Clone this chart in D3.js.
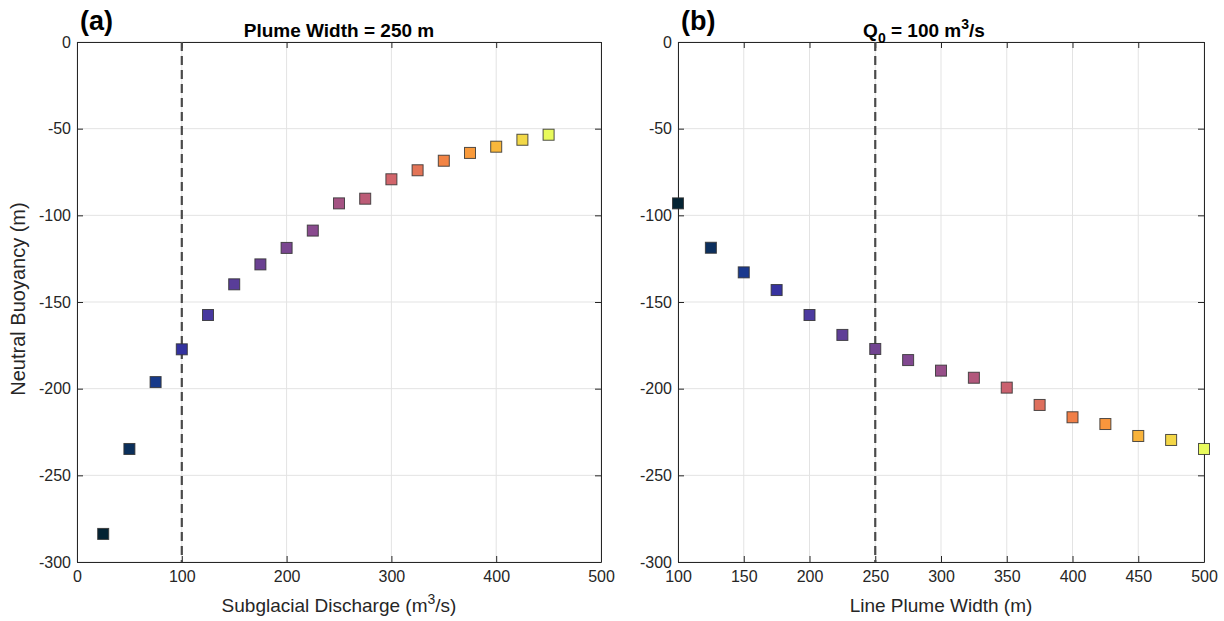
<!DOCTYPE html>
<html>
<head>
<meta charset="utf-8">
<script src="https://cdn.jsdelivr.net/npm/d3@7"></script>
<style>
  html, body { margin: 0; padding: 0; background: #fff; }
  svg { display: block; font-family: "Liberation Sans", Arial, Helvetica, sans-serif; }
</style>
</head>
<body>
<svg id="chart" width="1224" height="621"></svg>
<script>
// Panel (a): neutral buoyancy depth vs subglacial discharge (plume width 250 m)
const dischargeQ = [25, 50, 75, 100, 125, 150, 175, 200, 225, 250, 275, 300, 325, 350, 375, 400, 425, 450];
const buoyancyA  = [-283.8, -234.8, -196.2, -177.3, -157.5, -139.8, -128.3, -118.8, -108.8, -93.1, -90.4, -79.2, -74.0, -68.5, -64.0, -60.4, -56.4, -53.5];

// Panel (b): neutral buoyancy depth vs line plume width (Q0 = 100 m^3/s)
const plumeWidth = [100, 125, 150, 175, 200, 225, 250, 275, 300, 325, 350, 375, 400, 425, 450, 475, 500];
const buoyancyB  = [-93.1, -118.7, -132.9, -143.1, -157.5, -169.0, -177.1, -183.5, -189.6, -193.7, -199.4, -209.4, -216.5, -220.4, -227.3, -229.6, -234.8];

const xTicksA = [0, 100, 200, 300, 400, 500];
const xTicksB = [100, 150, 200, 250, 300, 350, 400, 450, 500];
const yTicks  = [0, -50, -100, -150, -200, -250, -300];

const refLineA = 100;   // reference discharge
const refLineB = 250;   // reference plume width

// thermal-style colormap stops
const cmapStops = ["#042333", "#0b2f5c", "#173a8c", "#3532a0", "#4c3a9f", "#6a4192",
                   "#8a4b8f", "#ad567f", "#d3656a", "#f07f48", "#fa9c3a", "#f9c03b", "#e8fa5b"];
const cmapPos   = [0, 0.06, 0.12, 0.18, 0.25, 0.35, 0.47, 0.55, 0.65, 0.75, 0.83, 0.90, 1.0];
const cmap = d3.scaleLinear().domain(cmapPos).range(cmapStops).interpolate(d3.interpolateRgb);

const svg = d3.select("#chart");
const axisColor = "#262626";
const plainFmt = d => String(d);   // hyphen-minus tick labels

function panel(opts) {
  const { left, right, top, bottom, xDomain, xTicks, xs, ys, refX, letter, title, xLabel, yLabel } = opts;
  const x = d3.scaleLinear().domain(xDomain).range([left, right]);
  const y = d3.scaleLinear().domain([-300, 0]).range([bottom, top]);
  const g = svg.append("g");

  // grid
  g.append("g").selectAll("line").data(xTicks).join("line")
    .attr("x1", d => x(d)).attr("x2", d => x(d)).attr("y1", top).attr("y2", bottom)
    .attr("stroke", "#e3e3e3").attr("stroke-width", 1);
  g.append("g").selectAll("line").data(yTicks).join("line")
    .attr("x1", left).attr("x2", right).attr("y1", d => y(d)).attr("y2", d => y(d))
    .attr("stroke", "#e3e3e3").attr("stroke-width", 1);

  // axes with inward ticks on all four sides
  const tl = 6;
  const bottomAxis = g.append("g").attr("transform", `translate(0,${bottom})`)
    .call(d3.axisBottom(x).tickValues(xTicks).tickSizeInner(-tl).tickSizeOuter(0).tickPadding(10).tickFormat(plainFmt));
  const topAxis = g.append("g").attr("transform", `translate(0,${top})`)
    .call(d3.axisTop(x).tickValues(xTicks).tickSizeInner(-tl).tickSizeOuter(0).tickFormat(""));
  const leftAxis = g.append("g").attr("transform", `translate(${left},0)`)
    .call(d3.axisLeft(y).tickValues(yTicks).tickSizeInner(-tl).tickSizeOuter(0).tickPadding(6).tickFormat(plainFmt));
  const rightAxis = g.append("g").attr("transform", `translate(${right},0)`)
    .call(d3.axisRight(y).tickValues(yTicks).tickSizeInner(-tl).tickSizeOuter(0).tickFormat(""));
  [bottomAxis, topAxis, leftAxis, rightAxis].forEach(a => {
    a.select(".domain").attr("stroke", axisColor).attr("stroke-width", 1);
    a.selectAll(".tick line").attr("stroke", axisColor).attr("stroke-width", 1);
    a.selectAll("text").attr("fill", axisColor).attr("font-size", 16)
      .attr("font-family", "'Liberation Sans', Arial, sans-serif");
  });
  bottomAxis.selectAll("text").attr("dy", "0.6em");

  // reference line
  g.append("line")
    .attr("x1", x(refX)).attr("x2", x(refX)).attr("y1", top).attr("y2", bottom)
    .attr("stroke", "#4a4a4a").attr("stroke-width", 2.2).attr("stroke-dasharray", "9,5");

  // markers
  const n = xs.length;
  const s = 11;
  g.append("g").selectAll("rect").data(xs.map((v, i) => [v, ys[i], i])).join("rect")
    .attr("x", d => x(d[0]) - s / 2).attr("y", d => y(d[1]) - s / 2)
    .attr("width", s).attr("height", s)
    .attr("fill", d => cmap(d[2] / (n - 1)))
    .attr("stroke", "#333").attr("stroke-opacity", 0.85).attr("stroke-width", 1);

  // panel letter
  g.append("text").attr("x", left + 3).attr("y", 30)
    .attr("font-size", 27).attr("font-weight", "bold").attr("fill", "#000").text(letter);

  // title
  const t = g.append("text").attr("x", opts.titleX).attr("y", 37).attr("text-anchor", "middle")
    .attr("font-size", 19).attr("font-weight", "bold").attr("fill", "#000");
  title(t);

  // x label
  const xl = g.append("text").attr("x", (left + right) / 2).attr("y", 612).attr("text-anchor", "middle")
    .attr("font-size", 19).attr("fill", axisColor);
  xLabel(xl);

  if (yLabel) {
    g.append("text").attr("transform", `translate(25,${(top + bottom) / 2 - 3}) rotate(-90)`)
      .attr("text-anchor", "middle").attr("font-size", 20).attr("fill", axisColor).text(yLabel);
  }
}

panel({
  left: 77, right: 601, top: 42, bottom: 562,
  xDomain: [0, 500], xTicks: xTicksA, xs: dischargeQ, ys: buoyancyA, refX: refLineA,
  letter: "(a)", titleX: 339,
  title: t => t.text("Plume Width = 250 m"),
  xLabel: t => {
    t.append("tspan").text("Subglacial Discharge (m");
    t.append("tspan").attr("dy", -8).attr("font-size", 14).text("3");
    t.append("tspan").attr("dy", 8).text("/s)");
  },
  yLabel: "Neutral Buoyancy (m)"
});

panel({
  left: 678, right: 1204, top: 42, bottom: 562,
  xDomain: [100, 500], xTicks: xTicksB, xs: plumeWidth, ys: buoyancyB, refX: refLineB,
  letter: "(b)", titleX: 924,
  title: t => {
    t.append("tspan").text("Q");
    t.append("tspan").attr("dy", 6).attr("font-size", 14).text("0");
    t.append("tspan").attr("dy", -6).text(" = 100 m");
    t.append("tspan").attr("dy", -8).attr("font-size", 14).text("3");
    t.append("tspan").attr("dy", 8).text("/s");
  },
  xLabel: t => t.text("Line Plume Width (m)"),
  yLabel: null
});
</script>
</body>
</html>
